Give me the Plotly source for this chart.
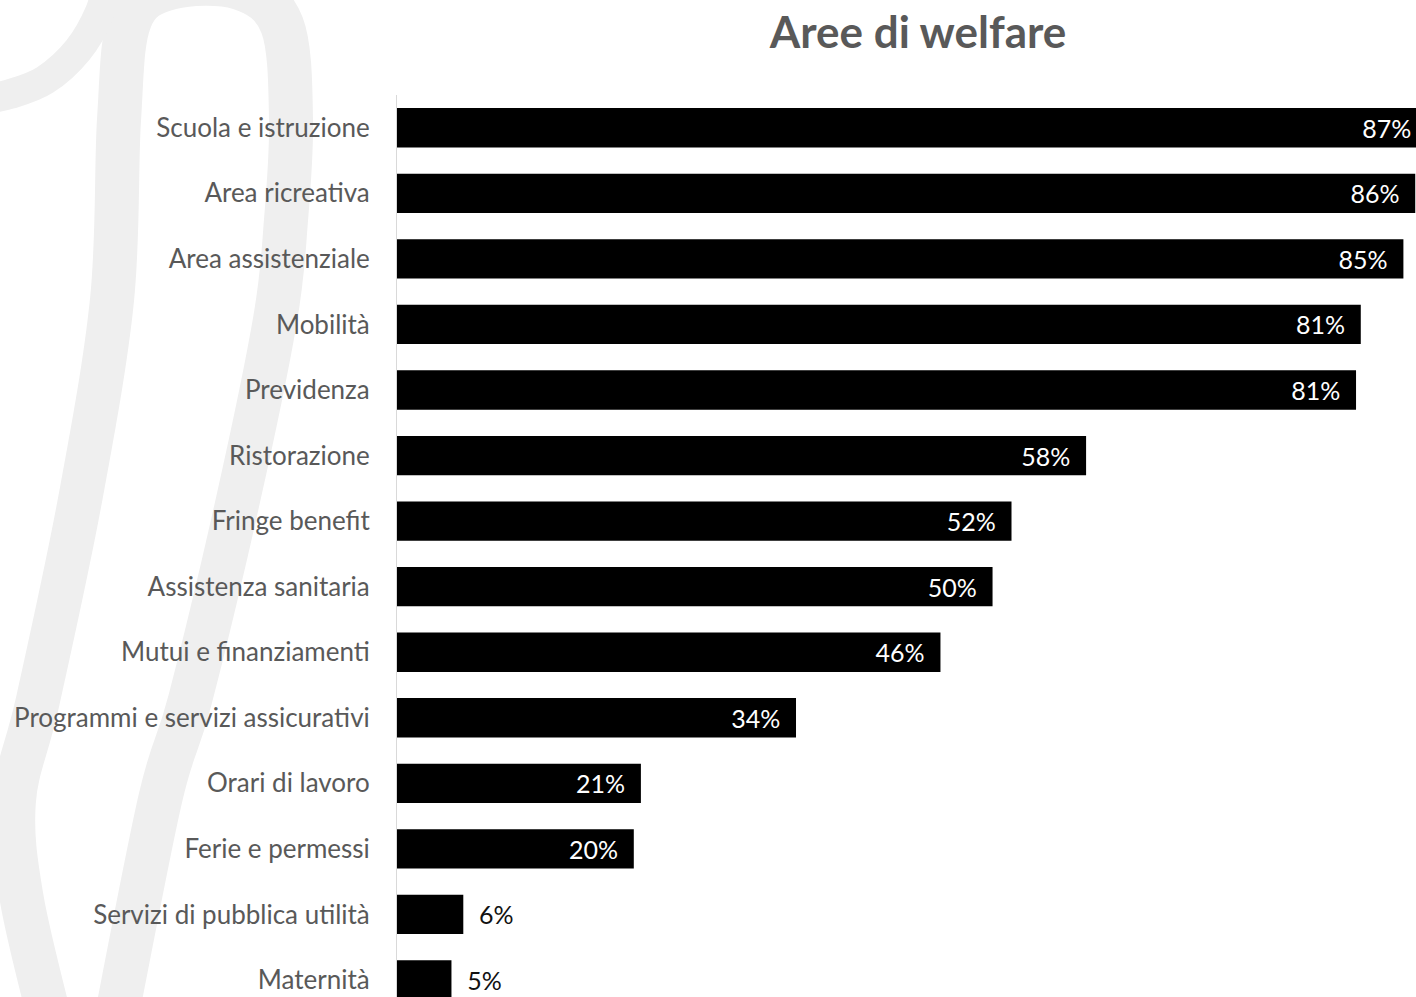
import plotly.graph_objects as go

categories = [
    "Scuola e istruzione", "Area ricreativa", "Area assistenziale", "Mobilità",
    "Previdenza", "Ristorazione", "Fringe benefit", "Assistenza sanitaria",
    "Mutui e finanziamenti", "Programmi e servizi assicurativi", "Orari di lavoro",
    "Ferie e permessi", "Servizi di pubblica utilità", "Maternità",
]
values = [87.0, 86.0, 85.0, 81.4, 81.0, 58.2, 51.9, 50.3, 45.9, 33.7, 20.6, 20.0, 5.6, 4.6]
title_text = "Aree di welfare"

W, H = 1416, 997
L, T = 397, 95
PW, PH = W - L, H - T
NBSP = "\u00a0"

inside = [v >= 10 for v in values]
texts = [(f"{round(v)}%" + NBSP * 2) if ins else (NBSP * 2 + f"{round(v)}%") for v, ins in zip(values, inside)]
positions = ["inside" if ins else "outside" for ins in inside]
colors_txt = ["white" if ins else "#111111" for ins in inside]

fig = go.Figure(go.Bar(
    x=values, y=categories, orientation="h",
    marker=dict(color="black", line=dict(width=0)),
    text=texts, textposition=positions,
    insidetextanchor="end",
    textfont=dict(family="Lato", size=25, color=colors_txt),
    cliponaxis=True,
    hoverinfo="skip",
))

# ---- decorative background watermark (brush strokes) ----
def to_paper(x, y):
    return (x - L) / PW, 1 - (y - T) / PH

def smooth_path(pts):
    # Catmull-Rom -> cubic Bezier, in paper coordinates
    P = [to_paper(x, y) for x, y in pts]
    d = f"M {P[0][0]:.5f},{P[0][1]:.5f}"
    for i in range(len(P) - 1):
        p0 = P[i - 1] if i > 0 else P[i]
        p1, p2 = P[i], P[i + 1]
        p3 = P[i + 2] if i + 2 < len(P) else P[i + 1]
        c1 = (p1[0] + (p2[0] - p0[0]) / 6, p1[1] + (p2[1] - p0[1]) / 6)
        c2 = (p2[0] - (p3[0] - p1[0]) / 6, p2[1] - (p3[1] - p1[1]) / 6)
        d += f" C {c1[0]:.5f},{c1[1]:.5f} {c2[0]:.5f},{c2[1]:.5f} {p2[0]:.5f},{p2[1]:.5f}"
    return d

stroke = "#efefef"
strokes = [
    # left leg -> arch -> right leg
    ([(55, 1040), (22, 900), (14, 800), (38, 700), (80, 500), (112, 300), (119, 120),
      (130, 20), (170, -12), (240, -12), (282, 25), (291, 120), (286, 220), (275, 320),
      (238, 500), (190, 700), (160, 800), (112, 1040)], 44),
    # entry hook at top-left
    ([(-20, 100), (10, 94), (45, 80), (78, 50), (100, 12), (108, -20)], 30),
]
shapes = [dict(type="path", path=smooth_path(p), xref="paper", yref="paper", layer="below",
               line=dict(color=stroke, width=w)) for p, w in strokes]

fig.update_layout(
    width=W, height=H,
    margin=dict(l=L, r=0, t=T, b=0, autoexpand=False),
    paper_bgcolor="white", plot_bgcolor="rgba(0,0,0,0)",
    showlegend=False,
    bargap=0.4,
    shapes=shapes,
    title=dict(text=f"<b>{title_text}</b>", x=918 / W, xanchor="center", xref="container",
               y=1 - 33 / H, yanchor="middle", yref="container",
               font=dict(family="Lato", size=44, color="#595959")),
    xaxis=dict(range=[0, PW / 11.84], visible=False, fixedrange=True),
    yaxis=dict(categoryorder="array", categoryarray=categories,
               range=[len(categories) - 0.5 - (1012.8 - H) / 65.6, -0.5],
               showline=True, linecolor="#d9d9d9", linewidth=1,
               showgrid=False, ticks="", ticklabelstandoff=21, fixedrange=True,
               tickfont=dict(family="Lato", size=26, color="#595959")),
)

fig.write_html("out.html", config={"displayModeBar": False, "staticPlot": True},
               post_script="document.body.style.margin='0px';")
